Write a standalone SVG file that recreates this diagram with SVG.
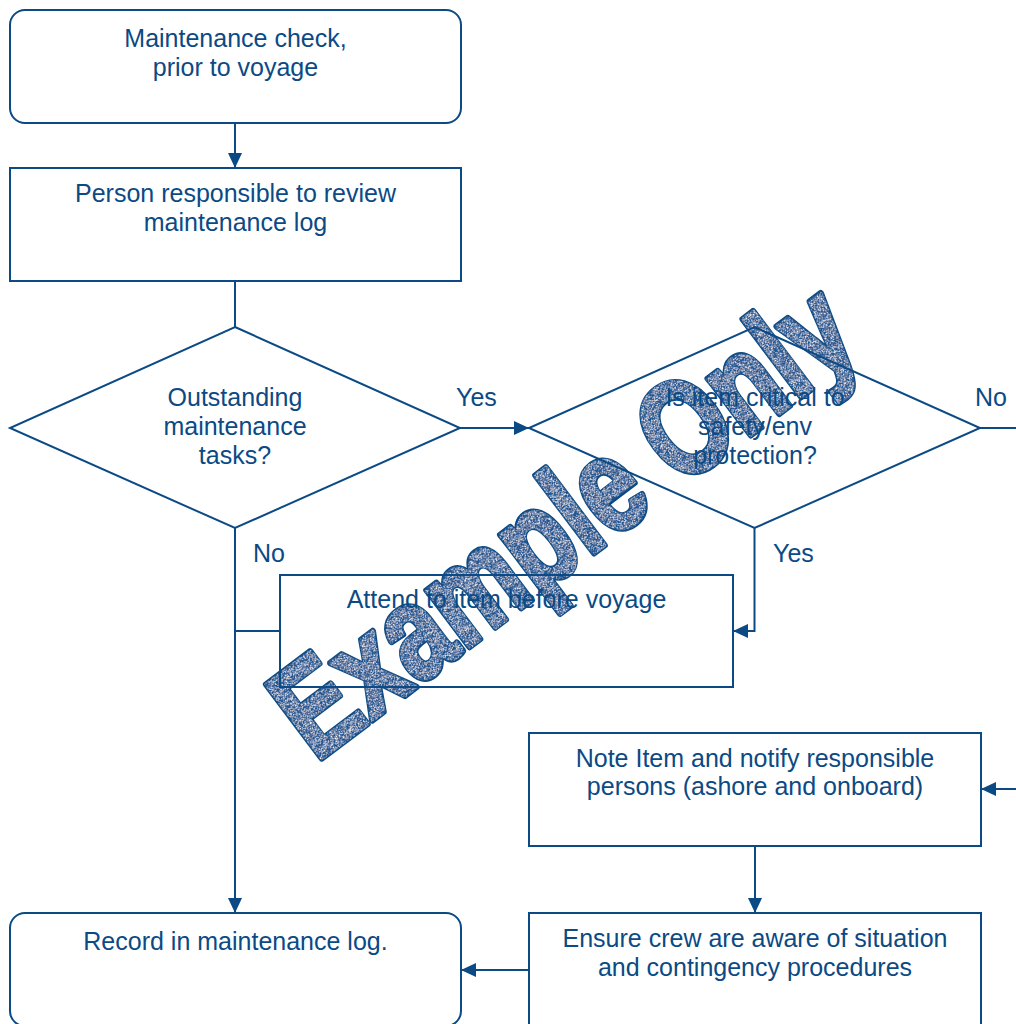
<svg xmlns="http://www.w3.org/2000/svg" width="1016" height="1024" viewBox="0 0 1016 1024">
  <style>
    .box { fill: none; stroke: #0b4a84; stroke-width: 2; }
    .link { fill: none; stroke: #0b4a84; stroke-width: 2; }
    .label { font-family: "Liberation Sans", Arial, sans-serif; font-size: 25px; fill: #0b4a84; text-anchor: middle; }
    .tag { font-family: "Liberation Sans", Arial, sans-serif; font-size: 25px; fill: #0b4a84; }
    .wm { font-family: "Liberation Sans", Arial, sans-serif; font-size: 134px; font-weight: bold; }
  </style>
  <defs>
    <marker id="head" markerUnits="userSpaceOnUse" markerWidth="15" markerHeight="14" refX="15" refY="7" orient="auto">
      <path d="M0,0 L15,7 L0,14 z" fill="#0b4a84"/>
    </marker>
    <!-- speckled fill for the stamp lettering -->
    <filter id="grain" x="-5%" y="-10%" width="110%" height="120%">
      <feTurbulence type="fractalNoise" baseFrequency="1.1" numOctaves="1" seed="7" result="n"/>
      <feColorMatrix in="n" type="matrix" values="0 0 0 0 1  0 0 0 0 1  0 0 0 0 1  4 0 0 0 -1.95" result="dots"/>
      <feComposite in="dots" in2="SourceAlpha" operator="in" result="specks"/>
      <feMerge>
        <feMergeNode in="SourceGraphic"/>
        <feMergeNode in="specks"/>
      </feMerge>
    </filter>
  </defs>

  <!-- stamp: dark rim underneath, speckled body on top -->
  <g id="stamp" transform="translate(322,758) rotate(-37) scale(0.775,1)">
    <text class="wm" x="-10" y="0" fill="#0b4a84" stroke="#0b4a84" stroke-width="6" stroke-linejoin="round" vector-effect="non-scaling-stroke">Example Only</text>
    <text class="wm" x="-10" y="0" fill="#1d5994" stroke="#1d5994" stroke-width="3" stroke-linejoin="round" vector-effect="non-scaling-stroke" filter="url(#grain)">Example Only</text>
  </g>

  <!-- connectors -->
  <g id="connectors">
    <line class="link" x1="235" y1="123" x2="235" y2="168" marker-end="url(#head)"/>
    <line class="link" x1="235" y1="281" x2="235" y2="327"/>
    <line class="link" x1="460" y1="428" x2="529" y2="428" marker-end="url(#head)"/>
    <line class="link" x1="980" y1="428" x2="1016" y2="428"/>
    <line class="link" x1="1016" y1="789" x2="981" y2="789" marker-end="url(#head)"/>
    <polyline class="link" points="754.5,528 754.5,631 733,631" marker-end="url(#head)"/>
    <line class="link" x1="235" y1="528" x2="235" y2="913" marker-end="url(#head)"/>
    <line class="link" x1="280" y1="631" x2="235" y2="631"/>
    <line class="link" x1="755" y1="846" x2="755" y2="913" marker-end="url(#head)"/>
    <line class="link" x1="529" y1="970" x2="461" y2="970" marker-end="url(#head)"/>
    <text class="tag" x="456" y="406">Yes</text>
    <text class="tag" x="975" y="406">No</text>
    <text class="tag" x="253" y="562">No</text>
    <text class="tag" x="773" y="562">Yes</text>
  </g>

  <g id="start">
    <rect class="box" x="10" y="10" width="451" height="113" rx="15"/>
    <text class="label" x="235.5" y="47">Maintenance check,</text>
    <text class="label" x="235.5" y="76">prior to voyage</text>
  </g>

  <g id="review">
    <rect class="box" x="10" y="168" width="451" height="113"/>
    <text class="label" x="235.5" y="202">Person responsible to review</text>
    <text class="label" x="235.5" y="231">maintenance log</text>
  </g>

  <g id="outstanding">
    <polygon class="box" points="235,327 460,428 235,528 10,428"/>
    <text class="label" x="235" y="406">Outstanding</text>
    <text class="label" x="235" y="435">maintenance</text>
    <text class="label" x="235" y="464">tasks?</text>
  </g>

  <g id="critical">
    <polygon class="box" points="754.5,327 980,428 754.5,528 529,428"/>
    <text class="label" x="755" y="406">Is item critical to</text>
    <text class="label" x="755" y="435">safety/env</text>
    <text class="label" x="755" y="464">protection?</text>
  </g>

  <g id="attend">
    <rect class="box" x="280" y="575" width="453" height="112"/>
    <text class="label" x="506.5" y="608">Attend to item before voyage</text>
  </g>

  <g id="notify">
    <rect class="box" x="529" y="733" width="452" height="113"/>
    <text class="label" x="755" y="767">Note Item and notify responsible</text>
    <text class="label" x="755" y="795">persons (ashore and onboard)</text>
  </g>

  <g id="record">
    <rect class="box" x="10" y="913" width="451" height="113" rx="15"/>
    <text class="label" x="235.5" y="950">Record in maintenance log.</text>
  </g>

  <g id="ensure">
    <rect class="box" x="529" y="913" width="452" height="113"/>
    <text class="label" x="755" y="947">Ensure crew are aware of situation</text>
    <text class="label" x="755" y="976">and contingency procedures</text>
  </g>
</svg>
